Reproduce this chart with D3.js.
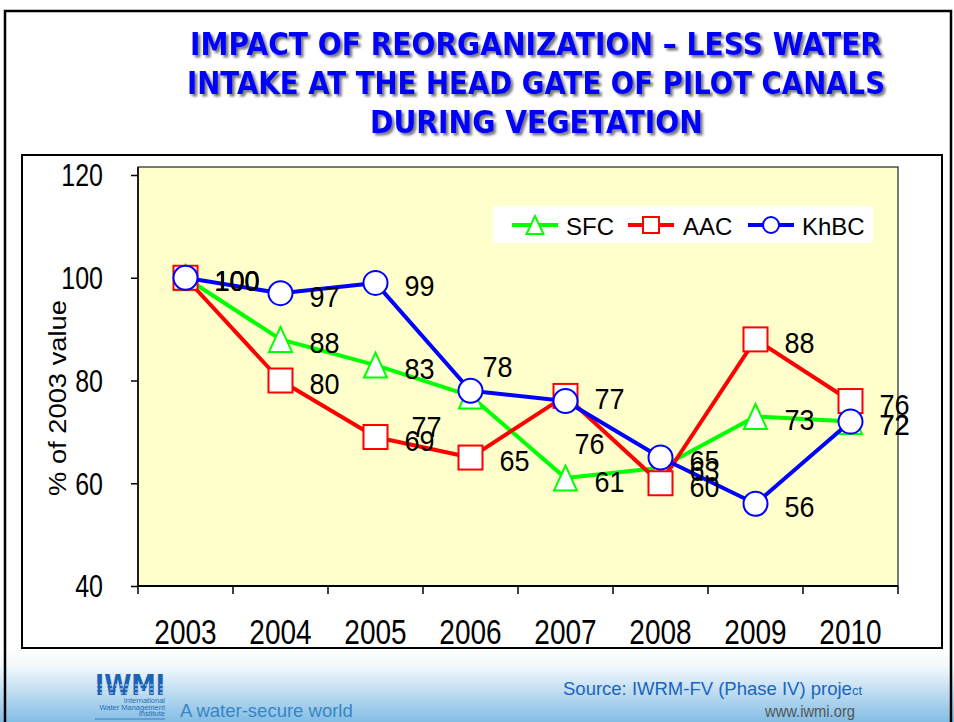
<!DOCTYPE html>
<html><head><meta charset="utf-8">
<script src="https://cdn.jsdelivr.net/npm/d3@7"></script>
<style>html,body{margin:0;padding:0;background:#fff;overflow:hidden}</style>
</head><body>
<svg id="c" width="954" height="722"></svg>
<script>
// ---------- data ----------
const titleLines = [
  "IMPACT OF REORGANIZATION – LESS WATER",
  "INTAKE AT THE HEAD GATE OF PILOT CANALS",
  "DURING VEGETATION"
];
const years = ["2003","2004","2005","2006","2007","2008","2009","2010"];
const seriesNames = ["SFC","AAC","KhBC"];
const sfcValues  = [100, 88, 83, 77, 61, 63, 73, 72];
const aacValues  = [100, 80, 69, 65, 77, 60, 88, 76];
const khbcValues = [100, 97, 99, 78, 76, 65, 56, 72];
const yTickValues = [40, 60, 80, 100, 120];
const yAxisTitle = "% of 2003 value";
const sourceText = "Source: IWRM-FV (Phase IV) proje";
const sourceTail = "ct";
const webText = "www.iwmi.org";
const sloganText = "A water-secure world";

// ---------- layout / style ----------
const svg = d3.select("#c");
const FONT = "'Liberation Sans', Arial, sans-serif";
const colors = {SFC:"#00ff00", AAC:"#ff0000", KhBC:"#0000ff"};
const shapes = {SFC:"triangle", AAC:"square", KhBC:"circle"};
// manual label displacements (dx from point to label start, dy to label centre)
const defaultShift = [29, 3];
const labelShift = {"SFC-3":[-59, 31], "KhBC-3":[12, -24], "KhBC-4":[9, 42]};

const defs = svg.append("defs");
const grad = defs.append("linearGradient").attr("id","foot").attr("x1",0).attr("y1",0).attr("x2",0).attr("y2",1);
grad.append("stop").attr("offset","0%").attr("stop-color","#ffffff");
grad.append("stop").attr("offset","25%").attr("stop-color","#f2f8fc");
grad.append("stop").attr("offset","100%").attr("stop-color","#83bde5");
const f = defs.append("filter").attr("id","sh").attr("x","-5%").attr("y","-20%").attr("width","110%").attr("height","150%");
f.append("feDropShadow").attr("dx",2.5).attr("dy",2.5).attr("stdDeviation",1.3)
  .attr("flood-color","#333").attr("flood-opacity",0.65);

// footer gradient
svg.append("rect").attr("x",0).attr("y",648).attr("width",954).attr("height",74).attr("fill","url(#foot)");
// slide border
svg.append("rect").attr("x",5).attr("y",11).attr("width",946).attr("height",740)
  .attr("fill","none").attr("stroke","#000").attr("stroke-width",2.5);

// title
const titlePos = [{x:190,y:55,w:692},{x:187,y:94,w:698},{x:370,y:133,w:333}];
svg.append("g").attr("filter","url(#sh)").selectAll("text").data(titleLines).join("text")
  .attr("x",(d,i)=>titlePos[i].x).attr("y",(d,i)=>titlePos[i].y)
  .attr("textLength",(d,i)=>titlePos[i].w).attr("lengthAdjust","spacingAndGlyphs")
  .attr("font-family","'DejaVu Sans', Verdana, sans-serif").attr("font-weight","bold")
  .attr("font-size",32).attr("fill","#0000ff").text(d=>d);

// chart box
svg.append("rect").attr("x",22).attr("y",155).attr("width",920).attr("height",493)
  .attr("fill","#fff").attr("stroke","#000").attr("stroke-width",2);

// scales
const x = d3.scaleBand().domain(years).range([138, 898]);
const y = d3.scaleLinear().domain([40, 120]).range([586, 175]);
const cx = d => x(d) + x.bandwidth()/2;

// plot area
svg.append("rect").attr("x",138).attr("y",167).attr("width",760).attr("height",419)
  .attr("fill","#ffffcc").attr("stroke","#222").attr("stroke-width",1.2);

// y axis
const yAxis = svg.append("g").attr("transform","translate(138,0)")
  .call(d3.axisLeft(y).tickValues(yTickValues).tickSize(7).tickPadding(28).tickSizeOuter(0));
yAxis.select(".domain").attr("stroke","#000").attr("stroke-width",1.5).attr("d","M0,167V586");
yAxis.selectAll(".tick line").attr("stroke","#000").attr("stroke-width",1.5);
yAxis.selectAll(".tick text").attr("font-family",FONT).attr("font-size",25).attr("fill","#000")
  .attr("dy","0.36em").attr("transform","scale(1,1.22)");

// x axis
const xAxis = svg.append("g").attr("transform","translate(0,586)")
  .call(d3.axisBottom(x).tickSize(0).tickPadding(28));
xAxis.select(".domain").attr("stroke","#000").attr("stroke-width",2).attr("d","M138,0H898");
xAxis.selectAll(".tick text").attr("font-family",FONT).attr("font-size",28).attr("fill","#000")
  .attr("transform","scale(1,1.22)");
const bounds = years.map(d=>x(d)).concat([x.range()[1]]);
svg.append("g").selectAll("line").data(bounds).join("line")
  .attr("x1",d=>d).attr("x2",d=>d).attr("y1",586).attr("y2",594)
  .attr("stroke","#000").attr("stroke-width",1.5);

// y title
svg.append("text").attr("transform","translate(66,398) rotate(-90)")
  .attr("text-anchor","middle").attr("font-family",FONT).attr("font-size",23)
  .attr("textLength",196).attr("lengthAdjust","spacingAndGlyphs").text(yAxisTitle);

// markers
function marker(g, shape, color, px, py) {
  if (shape === "triangle") {
    g.append("path").attr("d",`M${px},${py-12.5}L${px+11.5},${py+12.5}L${px-11.5},${py+12.5}Z`)
      .attr("fill","#fff").attr("stroke",color).attr("stroke-width",2);
  } else if (shape === "square") {
    g.append("rect").attr("x",px-12).attr("y",py-12).attr("width",24).attr("height",24)
      .attr("fill","#fff").attr("stroke",color).attr("stroke-width",2);
  } else {
    g.append("circle").attr("cx",px).attr("cy",py).attr("r",12)
      .attr("fill","#fff").attr("stroke",color).attr("stroke-width",2);
  }
}

const seriesData = [sfcValues, aacValues, khbcValues];
const line = d3.line().x((d,i)=>cx(years[i])).y(d=>y(d));
seriesNames.forEach((name, si) => {
  const vals = seriesData[si];
  const g = svg.append("g");
  g.append("path").datum(vals).attr("d",line).attr("fill","none")
    .attr("stroke",colors[name]).attr("stroke-width",4).attr("stroke-linejoin","round");
  vals.forEach((v,i)=> marker(g, shapes[name], colors[name], cx(years[i]), y(v)));
});
// data labels
const labG = svg.append("g");
seriesNames.forEach((name, si) => {
  seriesData[si].forEach((v,i) => {
    const s = labelShift[name+"-"+i] || defaultShift;
    const px = cx(years[i]) + s[0], py = y(v) + s[1];
    labG.append("text").attr("transform",`translate(${px},${py}) scale(1,1.08)`)
      .attr("dy","0.36em").attr("font-family",FONT).attr("font-size",27).attr("fill","#000")
      .text(d3.format("d")(v));
  });
});

// legend
const lg = svg.append("g");
lg.append("rect").attr("x",493).attr("y",206).attr("width",380).attr("height",37).attr("fill","#fff");
const legendX = [{l:512, t:566}, {l:628, t:683}, {l:748, t:802}];
seriesNames.forEach((name, i) => {
  const L = legendX[i];
  lg.append("line").attr("x1",L.l).attr("x2",L.l+46).attr("y1",225).attr("y2",225)
    .attr("stroke",colors[name]).attr("stroke-width",4);
  const g = lg.append("g");
  const m = L.l + 23;
  if (shapes[name] === "triangle") {
    g.append("path").attr("d",`M${m},${216}L${m+8.5},${234}L${m-8.5},${234}Z`)
      .attr("fill","#fff").attr("stroke",colors[name]).attr("stroke-width",2);
  } else if (shapes[name] === "square") {
    g.append("rect").attr("x",m-8).attr("y",217).attr("width",16).attr("height",16)
      .attr("fill","#fff").attr("stroke",colors[name]).attr("stroke-width",2);
  } else {
    g.append("circle").attr("cx",m).attr("cy",225).attr("r",8)
      .attr("fill","#fff").attr("stroke",colors[name]).attr("stroke-width",2);
  }
  lg.append("text").attr("x",L.t).attr("y",235).attr("font-family",FONT)
    .attr("font-size",24).attr("fill","#000").text(name);
});

// footer: logo
const logo = svg.append("g");
logo.append("text").attr("x",95).attr("y",695).attr("textLength",70).attr("lengthAdjust","spacingAndGlyphs")
  .attr("font-family","'DejaVu Sans', sans-serif").attr("font-weight","bold").attr("font-size",29)
  .attr("fill","#1b63b4").text("IWMI");
[685, 689, 693].forEach(yy => {
  logo.append("line").attr("x1",95).attr("x2",165).attr("y1",yy).attr("y2",yy)
    .attr("stroke","#cfe3f3").attr("stroke-width",1).attr("stroke-dasharray","3,2");
});
["International","Water Management","Institute"].forEach((t,i)=>{
  logo.append("text").attr("x",165).attr("y",703+i*6.5).attr("text-anchor","end")
    .attr("font-family",FONT).attr("font-size",7.5).attr("fill","#2a6fb5").text(t);
});
logo.append("line").attr("x1",95).attr("x2",165).attr("y1",719).attr("y2",719)
  .attr("stroke","#2a6fb5").attr("stroke-width",0.8);
svg.append("text").attr("x",180).attr("y",717).attr("font-family",FONT).attr("font-size",18.5)
  .attr("fill","#3785c6").text(sloganText);

const src = svg.append("text").attr("x",563).attr("y",695).attr("font-family",FONT)
  .attr("font-size",18.5).attr("fill","#1a64c0");
src.append("tspan").text(sourceText);
src.append("tspan").attr("font-size",13).text(sourceTail);
svg.append("text").attr("x",765).attr("y",717).attr("textLength",90).attr("lengthAdjust","spacingAndGlyphs")
  .attr("font-family",FONT).attr("font-size",16).attr("fill","#555").text(webText);
</script>
</body></html>
